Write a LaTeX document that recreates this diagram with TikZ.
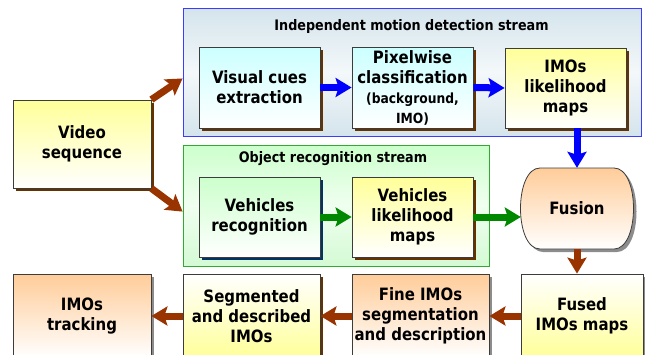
\documentclass[tikz,border=0pt]{standalone}
\usepackage{fontspec}
\setmainfont{DejaVu Sans}[FakeStretch=0.88]
\usetikzlibrary{arrows.meta,shadows,calc}
\definecolor{yel}{RGB}{255,255,153}
\definecolor{cyn}{RGB}{204,255,255}
\definecolor{grn}{RGB}{204,255,204}
\definecolor{org}{RGB}{255,204,153}
\definecolor{shbrown}{RGB}{102,51,0}
\definecolor{shnavy}{RGB}{0,51,102}
\definecolor{shgray}{RGB}{140,140,140}
\definecolor{arrbrown}{RGB}{153,51,0}
\definecolor{arrblue}{RGB}{0,0,255}
\definecolor{arrgreen}{RGB}{0,136,0}
\definecolor{boxline}{RGB}{60,60,60}
\definecolor{imsline}{RGB}{60,60,255}
\definecolor{orsline}{RGB}{50,170,50}
\definecolor{imstop}{RGB}{212,228,236}
\definecolor{imsmid}{RGB}{244,248,250}
\definecolor{orsmid}{RGB}{240,255,240}
\definecolor{orsbot}{RGB}{212,250,212}
\tikzset{
  box/.style={draw=boxline, line width=0.8pt, minimum width=121pt, minimum height=81pt,
    inner sep=0pt, align=center, font=\bfseries\fontsize{17}{20}\selectfont},
  yelbox/.style={box, top color=yel, bottom color=white},
  yelrev/.style={box, top color=white, bottom color=yel},
  cynbox/.style={box, top color=cyn, bottom color=white},
  grnbox/.style={box, top color=grn, bottom color=white},
  orgbox/.style={box, top color=org, bottom color=white},
  shb/.style={drop shadow={shadow xshift=3pt, shadow yshift=-3pt, fill=shbrown, opacity=1}},
  shn/.style={drop shadow={shadow xshift=3pt, shadow yshift=-3pt, fill=shnavy, opacity=1}},
  shg/.style={drop shadow={shadow xshift=3pt, shadow yshift=-3pt, fill=shgray, opacity=1}},
  streamtitle/.style={inner sep=0pt, font=\bfseries\fontsize{14.5}{17}\selectfont},
  bigarrow/.style={line width=7pt, -{Stealth[length=16pt,width=19pt,inset=3pt]}},
  brarrow/.style={bigarrow, arrbrown},
  blarrow/.style={bigarrow, arrblue},
  grarrow/.style={bigarrow, arrgreen},
}
\begin{document}
\begin{tikzpicture}[x=1pt,y=-1pt]
\useasboundingbox (0,0) rectangle (645,354);
\clip (0,0) rectangle (645,354);
% stream containers
\node[draw=imsline, line width=0.8pt, top color=imstop, bottom color=imstop, middle color=imsmid,
  minimum width=458pt, minimum height=128pt, inner sep=0pt] (ims) at (412,72) {};
\node[streamtitle] (imstitle) at (411.5,26) {Independent motion detection stream};
\node[draw=orsline, line width=0.8pt, top color=grn, bottom color=orsbot, middle color=orsmid,
  minimum width=306pt, minimum height=121pt, inner sep=0pt] (ors) at (336,205.5) {};
\node[streamtitle] (orstitle) at (333,159) {Object recognition stream};
% boxes
\node[yelbox, shb, minimum width=138pt, minimum height=88pt] (video) at (82,144) {Video\\sequence};
\node[cynbox, shb] (visual) at (259.5,87.5) {Visual cues\\extraction};
\node[cynbox, shb] (pixel) at (412.5,87.5) {Pixelwise\\classification\\{\fontsize{14}{17}\selectfont (background,}\\{\fontsize{14}{17}\selectfont IMO)}};
\node[yelbox, shb, minimum height=80pt] (imolik) at (565.5,88) {IMOs\\likelihood\\maps};
\node[grnbox, shn, minimum height=80pt] (vehrec) at (259.5,217) {Vehicles\\recognition};
\node[yelbox, shb, minimum height=80pt] (vehlik) at (412.5,217) {Vehicles\\likelihood\\maps};
% fusion
\fill[shgray] (543,171) -- (617,171) .. controls (643,171) and (643,252) .. (617,252)
  -- (543,252) .. controls (517,252) and (517,171) .. (543,171) -- cycle;
\shade[top color=org, bottom color=white, draw=boxline, line width=0.8pt]
  (540,168) -- (614,168) .. controls (640,168) and (640,249) .. (614,249)
  -- (540,249) .. controls (514,249) and (514,168) .. (540,168) -- cycle;
\node[font=\bfseries\fontsize{17}{20}\selectfont, minimum width=112pt, minimum height=81pt, inner sep=0pt]
  (fusion) at (577,208.5) {Fusion};
% bottom row
\node[yelrev, shg, minimum width=122pt, minimum height=84pt] (fused) at (582,316) {Fused\\IMOs maps};
\node[orgbox, shg, minimum width=137pt, minimum height=84pt] (fine) at (420.5,316) {Fine IMOs\\segmentation\\and description};
\node[yelrev, shb, minimum width=137pt, minimum height=84pt] (seg) at (251.5,316) {Segmented\\and described\\IMOs};
\node[orgbox, shg, minimum width=138pt, minimum height=84pt] (track) at (82,316) {IMOs\\tracking};
% connectors
\draw[brarrow] (video.north east) -- ($(ims.north west)!0.55!(ims.south west)$);
\draw[brarrow] (video.south east) -- ($(ors.north west)!0.55!(ors.south west)$);
\draw[blarrow] (visual.east) -- (pixel.west);
\draw[blarrow] (pixel.east) -- (imolik.west);
\draw[grarrow] (vehrec.east) -- (vehlik.west);
\draw[grarrow] (vehlik.east) -- (vehlik.east -| fusion.west);
\draw[blarrow] (imolik.south -| fusion.north) -- (fusion.north);
\draw[brarrow] (fusion.south) -- (fusion.south |- fused.north);
\draw[brarrow] (fused.west) -- (fine.east);
\draw[brarrow] (fine.west) -- (seg.east);
\draw[brarrow] (seg.west) -- (track.east);
\end{tikzpicture}
\end{document}
